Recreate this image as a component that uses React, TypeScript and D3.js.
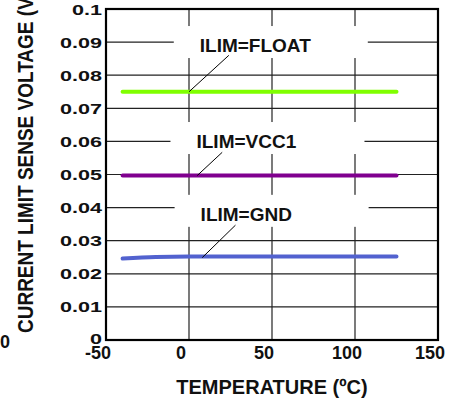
import React from "react"
import * as d3 from "d3"

// temperatures (ºC) where each curve was sampled
const temps = [-40, -20, 0, 25, 50, 75, 100, 125]
const floatV = [0.075, 0.075, 0.075, 0.075, 0.075, 0.075, 0.075, 0.075]
const vcc1V = [0.0497, 0.0497, 0.0497, 0.0497, 0.0497, 0.0497, 0.0497, 0.0497]
const gndV = [0.0246, 0.0251, 0.0252, 0.0252, 0.0252, 0.0252, 0.0252, 0.0252]

const xTicks = [-50, 0, 50, 100, 150]
const yTicks = [0, 0.01, 0.02, 0.03, 0.04, 0.05, 0.06, 0.07, 0.08, 0.09, 0.1]
const yTickLabels = ["0", "0.01", "0.02", "0.03", "0.04", "0.05", "0.06", "0.07", "0.08", "0.09", "0.1"]

const series = [
  { name: "ILIM=FLOAT", values: floatV, color: "#80ff00" },
  { name: "ILIM=VCC1", values: vcc1V, color: "#80008f" },
  { name: "ILIM=GND", values: gndV, color: "#5262cf" },
]

// label text anchor + leader line in data units (temp, volts)
const notes = [
  { text: "ILIM=FLOAT", at: [6.5, 0.0870], from: [24, 0.0860], to: [0, 0.075] },
  { text: "ILIM=VCC1", at: [4.5, 0.0580], from: [20, 0.0567], to: [5, 0.0497] },
  { text: "ILIM=GND", at: [7, 0.0360], from: [28, 0.0347], to: [8, 0.0249] },
]

const W = 458
const H = 404
const m = { left: 106, right: 20, top: 9, bottom: 64 }

export default function App() {
  const x = d3.scaleLinear().domain([-50, 150]).range([m.left, W - m.right])
  const y = d3.scaleLinear().domain([0, 0.1]).range([H - m.bottom, m.top])

  const line = (vals: number[]) =>
    d3
      .line<number>()
      .x((_, i) => x(temps[i]))
      .y(d => y(d))
      .curve(d3.curveMonotoneX)(vals) || ""

  const font = "Arial, 'Liberation Sans', Helvetica, sans-serif"

  return (
    <div style={{ position: "absolute", left: 0, top: 0 }}>
      <svg width={W} height={H} style={{ display: "block", background: "#fff" }} fontFamily={font}>
        {/* grid */}
        {yTicks.slice(1, -1).map(t => (
          <line key={"gy" + t} x1={x(-50)} x2={x(150)} y1={y(t)} y2={y(t)} stroke="#222" strokeWidth={1.2} />
        ))}
        {xTicks.slice(1, -1).map(t => (
          <line key={"gx" + t} x1={x(t)} x2={x(t)} y1={y(0)} y2={y(0.1)} stroke="#222" strokeWidth={1.2} />
        ))}

        {/* label backgrounds that break the grid */}
        {notes.map(n => (
          <rect
            key={"bg" + n.text}
            x={x(n.at[0]) - 26}
            y={y(n.at[1]) - 26}
            width={194}
            height={32}
            fill="#fff"
          />
        ))}

        {/* frame */}
        <rect
          x={x(-50)}
          y={y(0.1)}
          width={x(150) - x(-50)}
          height={y(0) - y(0.1)}
          fill="none"
          stroke="#000"
          strokeWidth={2.2}
        />

        {series.map(s => (
          <path key={s.name} d={line(s.values)} fill="none" stroke={s.color} strokeWidth={4} strokeLinecap="round" />
        ))}

        {notes.map(n => (
          <g key={n.text}>
            <line
              x1={x(n.from[0])}
              y1={y(n.from[1])}
              x2={x(n.to[0])}
              y2={y(n.to[1])}
              stroke="#000"
              strokeWidth={1}
            />
            <text x={x(n.at[0])} y={y(n.at[1])} fontSize={19} fontWeight="bold" fill="#111">
              {n.text}
            </text>
          </g>
        ))}

        {/* y ticks */}
        {yTicks.map((t, i) => (
          <g key={"yt" + t} transform={`translate(${m.left - 4},${y(t) + (i === 0 ? 4 : 5.5)}) scale(1.35,0.9)`}>
            <text textAnchor="end" fontSize={16} fontWeight="bold" fill="#111">
              {yTickLabels[i]}
            </text>
          </g>
        ))}

        {/* x ticks */}
        {xTicks.map(t => (
          <text key={"xt" + t} x={x(t) - 8} y={y(0) + 19} textAnchor="middle" fontSize={18} fontWeight="bold" fill="#111">
            {t}
          </text>
        ))}

        <text x={272} y={394} textAnchor="middle" fontSize={20} fontWeight="bold" fill="#111">
          TEMPERATURE (ºC)
        </text>

        <g transform="translate(33,333) rotate(-90) scale(1,1.2)">
          <text fontSize={19} fontWeight="bold" fill="#111">
            CURRENT LIMIT SENSE VOLTAGE (V)
          </text>
        </g>

        <text x={10} y={348} textAnchor="end" fontSize={18} fontWeight="bold" fill="#111">
          0
        </text>
      </svg>
    </div>
  )
}
